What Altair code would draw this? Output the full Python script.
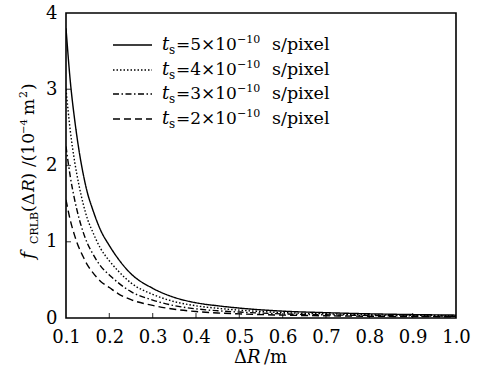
import altair as alt
import pandas as pd

# ---- data ----
dR = [0.10, 0.11, 0.12, 0.13, 0.14, 0.15, 0.16, 0.18, 0.20, 0.22, 0.25,
      0.30, 0.35, 0.40, 0.45, 0.50, 0.60, 0.70, 0.80, 0.90, 1.00]
f_ts5 = [3.80, 3.10, 2.60, 2.20, 1.88, 1.63, 1.45, 1.15, 0.95, 0.78, 0.58,
         0.39, 0.27, 0.20, 0.16, 0.13, 0.090, 0.070, 0.055, 0.045, 0.038]
f_ts4 = [3.00, 2.45, 2.05, 1.74, 1.49, 1.29, 1.15, 0.91, 0.75, 0.62, 0.46,
         0.31, 0.215, 0.16, 0.127, 0.103, 0.071, 0.055, 0.043, 0.036, 0.030]
f_ts3 = [2.25, 1.85, 1.55, 1.31, 1.12, 0.97, 0.86, 0.68, 0.565, 0.465, 0.345,
         0.235, 0.162, 0.12, 0.095, 0.078, 0.054, 0.042, 0.033, 0.027, 0.023]
f_ts2 = [1.55, 1.28, 1.08, 0.92, 0.80, 0.69, 0.61, 0.48, 0.40, 0.32, 0.24,
         0.165, 0.115, 0.085, 0.066, 0.054, 0.038, 0.029, 0.023, 0.019, 0.016]
series = ["ts5", "ts4", "ts3", "ts2"]
legend_mantissa = ["5", "4", "3", "2"]
x_tick_labels = [0.1, 0.2, 0.3, 0.4, 0.5, 0.6, 0.7, 0.8, 0.9, 1.0]
y_tick_labels = [0, 1, 2, 3, 4]
x_inner_ticks = [0.2, 0.3, 0.4, 0.5, 0.6, 0.7, 0.8, 0.9]
y_inner_ticks = [1, 2, 3]

rows = []
for name, vals in zip(series, [f_ts5, f_ts4, f_ts3, f_ts2]):
    for r, v in zip(dR, vals):
        rows.append({"dR": r, "f": v, "series": name})
df = pd.DataFrame(rows)

W, H = 390, 305
FONT = "DejaVu Serif"
DASHES = [[1, 0], [1.5, 2], [6, 2.5, 1.5, 2.5], [7, 4]]
dash_scale = alt.Scale(domain=series, range=DASHES)

xscale = alt.Scale(domain=[0.1, 1.0], nice=False, zero=False)
yscale = alt.Scale(domain=[0, 4], nice=False)

xaxis = alt.Axis(
    values=x_tick_labels, format=".1f", ticks=False, domain=False, grid=False,
    labelFont=FONT, labelFontSize=18, labelColor="black", labelPadding=10,
    labelFlush=False, labelOverlap=False, title=None)
yaxis = alt.Axis(
    values=y_tick_labels, format="d", ticks=False, domain=False, grid=False,
    labelFont=FONT, labelFontSize=18, labelColor="black", labelPadding=9,
    labelOverlap=False, title=None)

lines = alt.Chart(df).mark_line(
    color="black", strokeWidth=1.4, interpolate="monotone", clip=True
).encode(
    x=alt.X("dR:Q", scale=xscale, axis=xaxis),
    y=alt.Y("f:Q", scale=yscale, axis=yaxis),
    strokeDash=alt.StrokeDash("series:N", scale=dash_scale, legend=None),
    detail="series:N",
)

xt = alt.Chart(pd.DataFrame({"dR": x_inner_ticks})).mark_tick(
    color="black", thickness=1.2, orient="vertical"
).encode(x=alt.X("dR:Q", scale=xscale, axis=xaxis), y=alt.value(H - 2.5), size=alt.value(5))

yt = alt.Chart(pd.DataFrame({"f": y_inner_ticks})).mark_tick(
    color="black", thickness=1.2, orient="horizontal"
).encode(y=alt.Y("f:Q", scale=yscale, axis=yaxis), x=alt.value(2.5), size=alt.value(5))


def txt(s, x, y, size, style="normal", angle=0):
    return alt.Chart(alt.Data(values=[{"a": 1}])).mark_text(
        text=s, font=FONT, fontSize=size, fontStyle=style, align="left",
        baseline="alphabetic", angle=angle, color="black"
    ).encode(x=alt.value(x), y=alt.value(y))


layers = [lines, xt, yt]

# legend (drawn inside the plot)
row_base = [37, 62, 86, 111]
for i, (m, d) in enumerate(zip(legend_mantissa, DASHES)):
    b = row_base[i]
    layers.append(
        alt.Chart(alt.Data(values=[{"a": 1}])).mark_rule(
            color="black", strokeWidth=1.4, strokeDash=d
        ).encode(x=alt.value(47), x2=alt.value(86), y=alt.value(b - 5))
    )
    layers += [
        txt("t", 96, b, 18, "italic"),
        txt("s", 103, b + 4, 12),
        txt("=" + m + "×10", 110, b, 17),
        txt("−10", 171, b - 7, 11),
        txt("s/pixel", 206, b, 17.5),
    ]

# x title  ΔR /m
layers += [
    txt("Δ", 168, 350, 18),
    txt("R", 181, 350, 18, "italic"),
    txt("/m", 198, 350, 18),
]

# y title  f_CRLB(ΔR) /(10^-4 m^2), rotated
bx = -32
layers += [
    txt("f", bx, 246, 19, "italic", 270),
    txt("CRLB", bx + 4, 231, 11, "normal", 270),
    txt("(Δ", bx, 199, 17, "normal", 270),
    txt("R", bx, 179, 17, "italic", 270),
    txt(")", bx, 166.5, 17, "normal", 270),
    txt("/(10", bx, 154, 17, "normal", 270),
    txt("−4", bx - 7, 121, 10, "normal", 270),
    txt("m", bx, 102, 17, "normal", 270),
    txt("2", bx - 7, 85, 11, "normal", 270),
    txt(")", bx, 77, 17, "normal", 270),
]

chart = alt.layer(*layers).properties(
    width=W, height=H,
    autosize="none",
    padding={"left": 66, "top": 13, "right": 31, "bottom": 48},
    background="white",
).configure_view(stroke="black", strokeWidth=1.6)

chart.save("out.html", embed_options={"renderer": "svg", "actions": False})
